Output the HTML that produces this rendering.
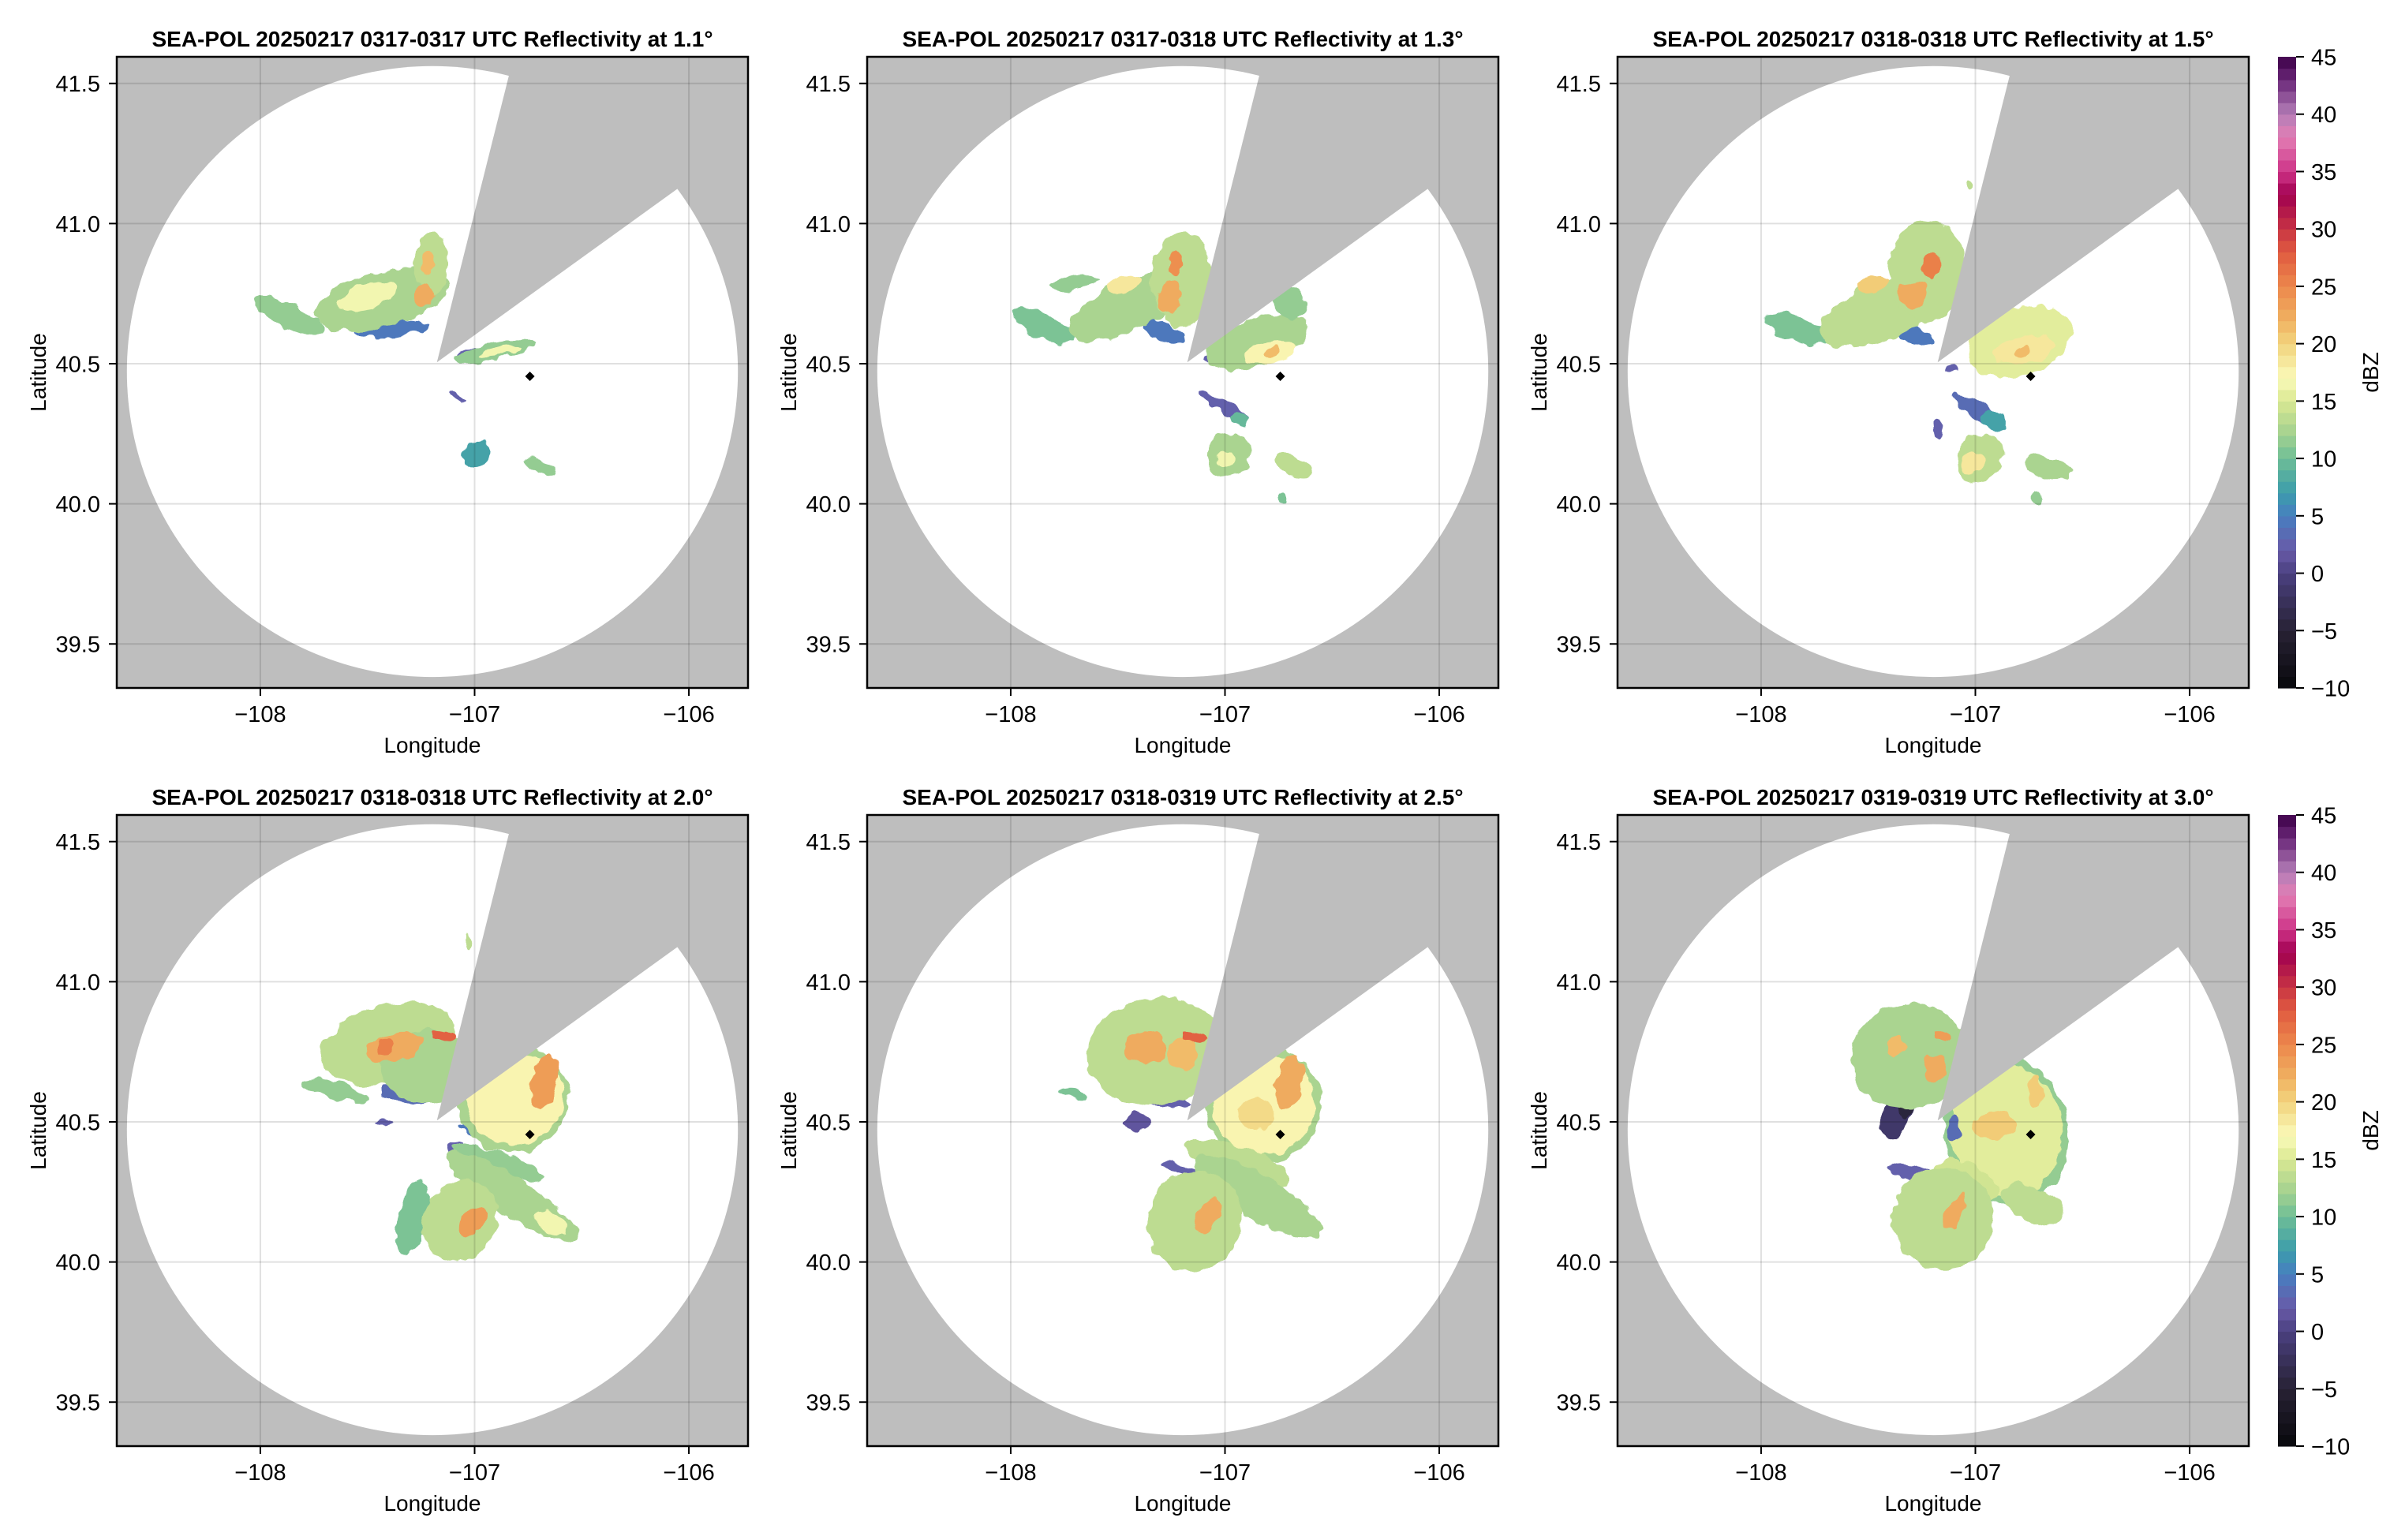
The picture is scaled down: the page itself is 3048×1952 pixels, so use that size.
<!DOCTYPE html>
<html><head><meta charset="utf-8"><title>SEA-POL Reflectivity</title>
<style>html,body{margin:0;padding:0;background:#fff;}svg{display:block;font-family:"Liberation Sans",Arial,sans-serif;}</style>
</head><body>
<svg id="fig" xmlns="http://www.w3.org/2000/svg" width="3048" height="1952" viewBox="0 0 3048 1952"></svg>
<script>
// ---- chart data ----
const panelTitles = [
 "SEA-POL 20250217 0317-0317 UTC Reflectivity at 1.1°",
 "SEA-POL 20250217 0317-0318 UTC Reflectivity at 1.3°",
 "SEA-POL 20250217 0318-0318 UTC Reflectivity at 1.5°",
 "SEA-POL 20250217 0318-0318 UTC Reflectivity at 2.0°",
 "SEA-POL 20250217 0318-0319 UTC Reflectivity at 2.5°",
 "SEA-POL 20250217 0319-0319 UTC Reflectivity at 3.0°"];
const lonTicks = [-108, -107, -106];
const latTicks = [39.5, 40.0, 40.5, 41.0, 41.5];
const cbTicks = [-10, -5, 0, 5, 10, 15, 20, 25, 30, 35, 40, 45];
const radarLon = -107.176, radarLat = 40.505;
const rangeCenterLon = -107.197, rangeCenterLat = 40.472, rangeKm = 121;
const blockAz = [14.1, 54.2];
const siteLon = -106.742, siteLat = 40.455;
// echo cells per panel: centre lon/lat, half-extent (deg), orientation (deg), reflectivity (dBZ)
const echoLon = [
 [-107.38,-107.87,-107.43,-107.20,-107.50,-107.24,-107.22,-107.03,-106.91,-106.88,-107.08,-106.99,-106.69],
 [-107.28,-107.85,-107.70,-107.44,-107.20,-107.47,-107.23,-107.26,-107.07,-106.85,-106.70,-106.785,-106.78,-107.006,-106.93,-106.98,-107.0,-106.674,-106.73],
 [-107.285,-107.838,-107.432,-107.224,-107.48,-107.285,-107.211,-107.03,-107.11,-106.794,-106.77,-106.78,-106.99,-106.916,-107.174,-106.978,-107.01,-106.658,-106.708],
 [-107.314,-107.646,-107.40,-107.22,-107.375,-107.42,-107.141,-107.03,-106.95,-106.82,-106.81,-106.674,-107.08,-106.883,-106.822,-106.637,-107.289,-107.068,-107.006,-107.424],
 [-107.277,-107.70,-107.326,-107.375,-107.20,-107.14,-107.412,-106.82,-106.82,-106.85,-106.70,-107.20,-106.945,-106.846,-107.141,-107.08],
 [-107.371,-107.33,-107.31,-107.371,-107.187,-107.15,-107.285,-106.855,-106.855,-106.917,-106.72,-107.10,-106.732,-107.04,-107.15,-107.10]];
const echoLat = [
 [40.625,40.67,40.73,40.86,40.74,40.74,40.86,40.54,40.545,40.545,40.38,40.18,40.13],
 [40.615,40.634,40.79,40.71,40.80,40.784,40.86,40.737,40.52,40.578,40.72,40.54,40.545,40.348,40.306,40.174,40.16,40.132,40.015],
 [40.606,40.625,40.69,40.831,40.784,40.747,40.85,41.14,40.48,40.578,40.55,40.545,40.334,40.297,40.268,40.165,40.146,40.128,40.015],
 [40.598,40.61,40.78,40.70,40.768,40.77,40.81,41.14,40.46,40.58,40.58,40.641,40.40,40.354,40.232,40.14,40.16,40.146,40.146,40.50],
 [40.58,40.60,40.752,40.77,40.74,40.805,40.50,40.56,40.56,40.53,40.64,40.33,40.353,40.232,40.146,40.165],
 [40.517,40.55,40.735,40.77,40.69,40.81,40.318,40.47,40.47,40.485,40.61,40.48,40.206,40.29,40.156,40.175]];
const echoRLon = [
 [0.18,0.18,0.32,0.08,0.15,0.05,0.03,0.06,0.20,0.10,0.04,0.06,0.08],
 [0.10,0.16,0.12,0.32,0.14,0.08,0.03,0.06,0.04,0.25,0.07,0.12,0.04,0.13,0.04,0.10,0.04,0.09,0.02],
 [0.10,0.16,0.32,0.18,0.07,0.07,0.04,0.02,0.04,0.25,0.14,0.04,0.13,0.06,0.02,0.10,0.05,0.11,0.03],
 [0.12,0.16,0.32,0.22,0.13,0.04,0.06,0.02,0.12,0.26,0.23,0.06,0.05,0.23,0.36,0.08,0.07,0.17,0.05,0.04],
 [0.12,0.07,0.32,0.10,0.07,0.06,0.06,0.27,0.24,0.08,0.06,0.10,0.26,0.34,0.22,0.05],
 [0.06,0.03,0.27,0.05,0.05,0.04,0.12,0.29,0.26,0.10,0.03,0.03,0.16,0.16,0.24,0.04]];
const echoRLat = [
 [0.025,0.045,0.10,0.11,0.04,0.04,0.05,0.015,0.03,0.015,0.01,0.055,0.02],
 [0.03,0.045,0.03,0.09,0.17,0.03,0.05,0.06,0.015,0.085,0.06,0.04,0.02,0.02,0.02,0.08,0.03,0.035,0.02],
 [0.03,0.045,0.10,0.18,0.03,0.05,0.05,0.02,0.01,0.12,0.05,0.02,0.03,0.03,0.03,0.09,0.04,0.04,0.025],
 [0.03,0.03,0.14,0.13,0.05,0.03,0.02,0.03,0.02,0.19,0.16,0.10,0.03,0.035,0.07,0.04,0.13,0.15,0.06,0.01],
 [0.03,0.02,0.19,0.06,0.06,0.02,0.03,0.21,0.18,0.06,0.10,0.02,0.06,0.08,0.18,0.07],
 [0.08,0.04,0.19,0.04,0.05,0.02,0.03,0.27,0.24,0.05,0.06,0.04,0.06,0.06,0.18,0.07]];
const echoRot = [
 [-5,25,-15,0,-15,0,0,-15,-12,-12,30,30,20],
 [20,25,-10,-25,0,-20,0,0,-20,-18,-30,-10,-10,28,20,35,35,25,0],
 [20,20,-22,0,-20,0,0,0,0,-20,-10,0,30,30,0,35,35,10,0],
 [10,15,-15,0,-15,-15,0,0,15,-20,-20,10,30,20,33,30,15,35,40,0],
 [10,10,-10,0,0,0,0,-20,-20,0,10,20,20,30,30,30],
 [30,0,-10,0,0,0,15,-10,-10,0,0,0,25,25,20,30]];
const echoDbz = [
 [4,11,12,13,16,22,21,2,11,16,2,7,11],
 [4,10,11,12,13,18,24,22,2,12,11,17,21,2,9,12,16,13,10],
 [4,10,13,13,20,22,25,13,2,15,18,21,3,7,2,13,18,12,11],
 [3,11,13,12,22,25,27,13,4,12,17,23,2,11,12,16,10,13,23,2],
 [2,10,13,22,21,27,1,12,17,19,22,2,13,12,13,22],
 [-2,-5,12,21,22,23,2,11,15,20,20,3,13,14,13,22]];

// ---- layout ----
const NS = "http://www.w3.org/2000/svg";
const svg = document.getElementById("fig");
const colX = [148, 1099, 2050], rowY = [72, 1033];
const W = 800, H = 800;
const lonMin = -108.670, lonMax = -105.724, latMin = 39.343, latMax = 41.595;
function sx(lon){ return (lon - lonMin) / (lonMax - lonMin) * W; }
function sy(lat){ return (latMax - lat) / (latMax - latMin) * H; }
const pxPerKm = 3.2;

const cStops = [[-10,[8,8,12]],[-5,[40,34,52]],[0,[74,64,128]],[2,[104,90,168]],[5,[72,126,192]],[7,[60,156,172]],[10,[110,190,150]],[12,[160,208,144]],[15,[218,232,146]],[17,[250,250,186]],[20,[242,212,126]],[22,[240,178,98]],[25,[236,136,76]],[28,[224,90,64]],[30,[200,52,68]],[33,[160,0,80]],[35,[206,52,136]],[38,[226,126,180]],[40,[180,126,184]],[43,[106,40,120]],[45,[60,0,72]]];
function cmap(v){
  v = Math.max(-10, Math.min(45, Math.floor(v) + 0.5));
  for (let i = 0; i < cStops.length - 1; i++){
    const a = cStops[i], b = cStops[i+1];
    if (v >= a[0] && v <= b[0]){
      const t = (v - a[0]) / (b[0] - a[0]);
      const c = a[1].map((x, k) => Math.round(x + (b[1][k] - x) * t));
      return "rgb(" + c.join(",") + ")";
    }
  }
  return "rgb(60,0,72)";
}
function mk(tag, attrs, parent){
  const e = document.createElementNS(NS, tag);
  for (const k in attrs) e.setAttribute(k, attrs[k]);
  (parent || svg).appendChild(e);
  return e;
}
function fmtLat(v){ return v.toFixed(1); }
function fmtLon(v){ return (v < 0 ? "\u2212" : "") + Math.abs(v); }

const defs = mk("defs", {});
const clip = mk("clipPath", {id: "axclip"}, defs);
mk("rect", {x: 0, y: 0, width: W, height: H}, clip);
const filt = mk("filter", {id: "rough", x: "-20%", y: "-20%", width: "140%", height: "140%"}, defs);
mk("feTurbulence", {type: "fractalNoise", baseFrequency: "0.06", numOctaves: 2, seed: 3, result: "n"}, filt);
mk("feDisplacementMap", {in: "SourceGraphic", in2: "n", scale: 14, xChannelSelector: "R", yChannelSelector: "G"}, filt);

for (let p = 0; p < 6; p++){
  const ox = colX[p % 3], oy = rowY[Math.floor(p / 3)];
  const g = mk("g", {transform: "translate(" + ox + "," + oy + ")"});
  
  
  const t = mk("text", {x: W/2, y: -13, "text-anchor": "middle", "font-size": 28, "font-weight": "bold", fill: "#000"}, g);
  t.textContent = panelTitles[p];
  
  
  const plot = mk("g", {"clip-path": "url(#axclip)"}, g);
  
  
  const bg = mk("rect", {x: 0, y: 0, width: W, height: H, fill: "#bebebe"}, plot);
  
  
  const cov = mk("circle", {cx: sx(rangeCenterLon), cy: sy(rangeCenterLat), r: rangeKm * pxPerKm, fill: "#fff"}, plot);
  
  
  const eg = mk("g", {filter: "url(#rough)"}, plot);
  
  
  for (let i = 0; i < echoLon[p].length; i++){
    const cx = sx(echoLon[p][i]), cy = sy(echoLat[p][i]);
    const rx = echoRLon[p][i] / (lonMax - lonMin) * W;
    const ry = echoRLat[p][i] / (latMax - latMin) * H;
    const el = mk("ellipse", {cx: cx, cy: cy, rx: rx, ry: ry, fill: cmap(echoDbz[p][i]), transform: "rotate(" + echoRot[p][i] + " " + cx + " " + cy + ")"}, eg);
    
    
  }
  // blocked sector
  const ax = sx(radarLon), ay = sy(radarLat);
  const pts = [[ax, ay]];
  for (let a = blockAz[0]; a <= blockAz[1] + 0.001; a += (blockAz[1] - blockAz[0]) / 8){
    const r = a * Math.PI / 180;
    pts.push([ax + 2000 * Math.sin(r), ay - 2000 * Math.cos(r)]);
  }
  const wedge = mk("polygon", {points: pts.map(q => q[0].toFixed(1) + "," + q[1].toFixed(1)).join(" "), fill: "#bebebe"}, plot);
  
  
  // grid
  for (const v of lonTicks){
    const l = mk("line", {x1: sx(v), x2: sx(v), y1: 0, y2: H, stroke: "rgba(0,0,0,0.12)", "stroke-width": 2}, plot);
    
    
  }
  for (const v of latTicks){
    const l = mk("line", {x1: 0, x2: W, y1: sy(v), y2: sy(v), stroke: "rgba(0,0,0,0.12)", "stroke-width": 2}, plot);
    
    
  }
  const sxm = sx(siteLon), sym = sy(siteLat);
  const mkr = mk("polygon", {points: [sxm, sym-6, sxm+6, sym, sxm, sym+6, sxm-6, sym].join(" "), fill: "#000"}, plot);
  
  
  const fr = mk("rect", {x: 0, y: 0, width: W, height: H, fill: "none", stroke: "#000", "stroke-width": 2.5}, g);
  
  
  // ticks
  for (const v of lonTicks){
    const x = sx(v);
    const tk = mk("line", {x1: x, x2: x, y1: H, y2: H + 10, stroke: "#000", "stroke-width": 2}, g);
    
    
    const tl = mk("text", {x: x, y: H + 43, "text-anchor": "middle", "font-size": 29, fill: "#000"}, g);
    tl.textContent = fmtLon(v);
    
    
  }
  for (const v of latTicks){
    const y = sy(v);
    const tk = mk("line", {x1: -10, x2: 0, y1: y, y2: y, stroke: "#000", "stroke-width": 2}, g);
    
    
    const tl = mk("text", {x: -21, y: y + 10.5, "text-anchor": "end", "font-size": 29, fill: "#000"}, g);
    tl.textContent = fmtLat(v);
    
    
  }
  const xl = mk("text", {x: W/2, y: H + 82, "text-anchor": "middle", "font-size": 28, fill: "#000"}, g);
  xl.textContent = "Longitude";
  
  
  const yl = mk("text", {x: 0, y: 0, "text-anchor": "middle", "font-size": 28, fill: "#000", transform: "translate(-90," + (H/2) + ") rotate(-90)"}, g);
  yl.textContent = "Latitude";
  
  
}

// colorbars
for (let r = 0; r < 2; r++){
  const oy = rowY[r], bx = 2887, bw = 23;
  const cg = mk("g", {});
  
  
  const cbY = v => oy + H - (v + 10) / 55 * H;
  for (let v = -10; v < 45; v++){
    const rc = mk("rect", {x: bx, y: cbY(v + 1), width: bw, height: H / 55 + 0.6, fill: cmap(v)}, cg);
    
    
  }
  for (const v of cbTicks){
    const y = cbY(v);
    const tk = mk("line", {x1: bx + bw, x2: bx + bw + 10, y1: y, y2: y, stroke: "#000", "stroke-width": 2}, cg);
    
    
    const tl = mk("text", {x: bx + bw + 19, y: y + 10.5, "font-size": 29, fill: "#000"}, cg);
    tl.textContent = (v < 0 ? "\u2212" : "") + Math.abs(v);
    
    
  }
  const lb = mk("text", {x: 0, y: 0, "text-anchor": "middle", "font-size": 28, fill: "#000", transform: "translate(3014," + (oy + H/2) + ") rotate(-90)"}, cg);
  lb.textContent = "dBZ";
  
  
}
</script>
</body></html>
